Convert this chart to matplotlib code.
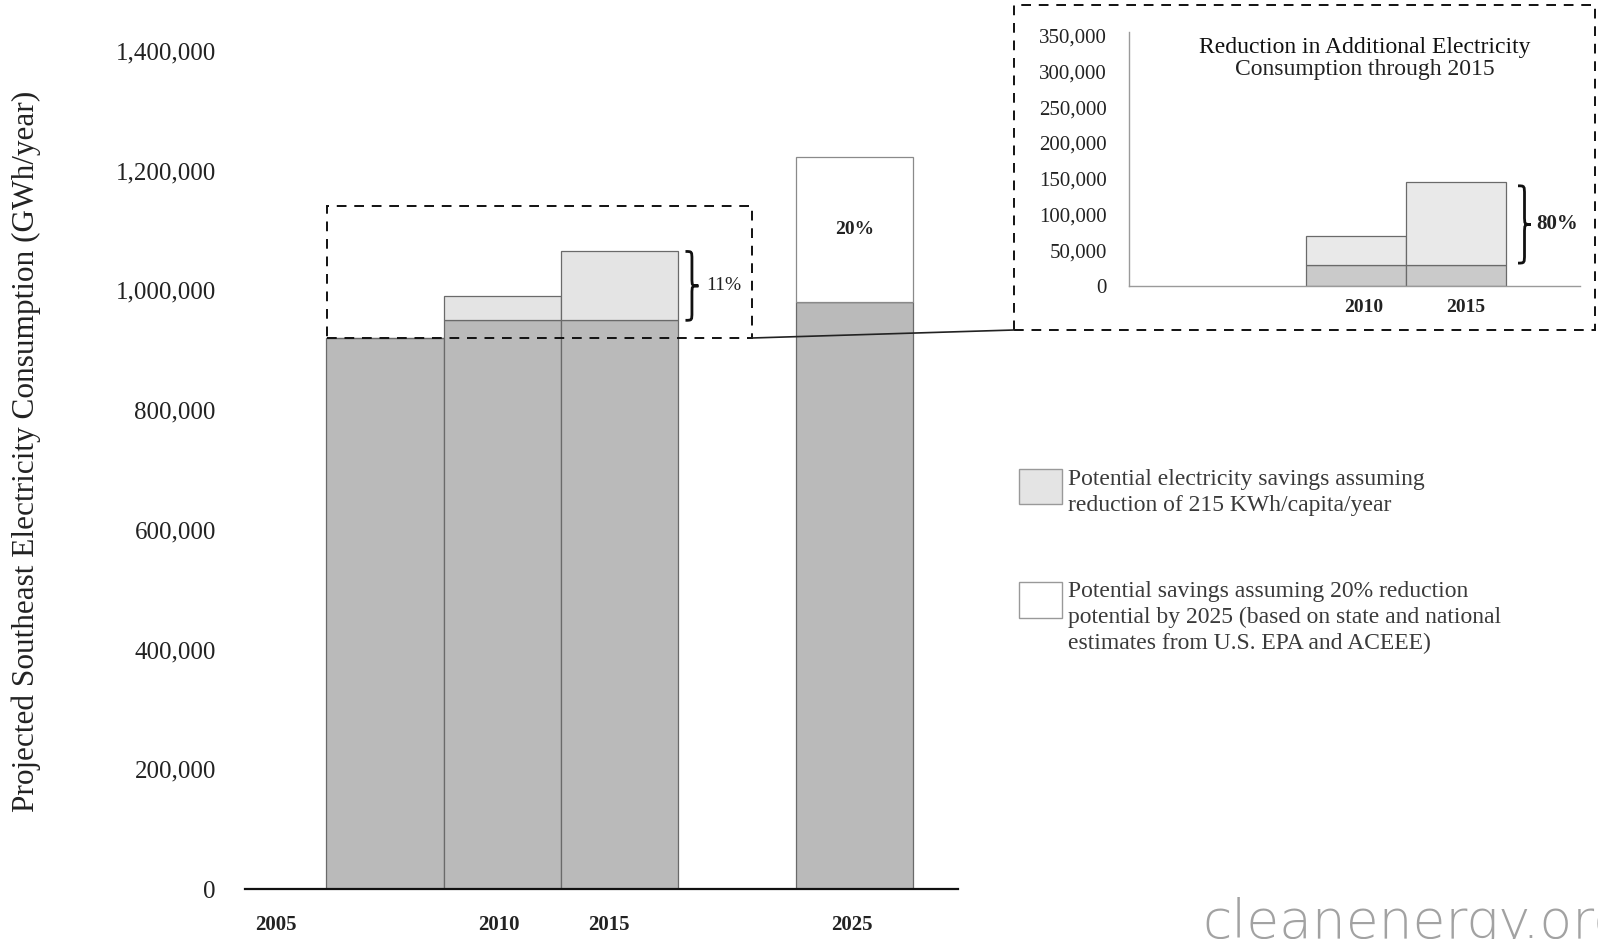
import matplotlib
matplotlib.use("Agg")
import matplotlib.pyplot as plt
from matplotlib.patches import Rectangle, PathPatch
from matplotlib.path import Path
from matplotlib.lines import Line2D
from matplotlib.ticker import FuncFormatter

plt.rcParams['font.family'] = ['Liberation Serif', 'DejaVu Serif']

# ---- data -------------------------------------------------------------
years = ["2005", "2010", "2015", "2025"]
baseline = [920000, 950000, 950000, 980000]          # projected consumption after savings
savings_per_capita = [0, 40000, 115000, 0]           # 215 kWh/capita/year reduction
savings_20pct = [0, 0, 0, 242000]                    # 20% reduction potential by 2025
main_ticks = [0, 200000, 400000, 600000, 800000, 1000000, 1200000, 1400000]

inset_years = ["2010", "2015"]
inset_ticks = [0, 50000, 100000, 150000, 200000, 250000, 300000, 350000]

pct_11 = "11%"
pct_20 = "20%"
pct_80 = "80%"

# ---- layout -----------------------------------------------------------
W, H = 1598, 939
fig = plt.figure(figsize=(W / 100, H / 100), dpi=100)


def fx(px):
    return px / W


def fy(py):
    return 1 - py / H


DARK = '#bababa'
LIGHT = '#e4e4e4'
EDGE = '#6a6a6a'
TXT = '#222222'

bar_x = [0, 1, 2, 4]
label_x = [-0.93, 0.97, 1.91, 3.98]

ax = fig.add_axes([fx(245), fy(889), fx(958) - fx(245), (868) / H])
ax.set_xlim(-1.19, 4.88)
ax.set_ylim(0, 1450000)

tops = [b + s for b, s in zip(baseline, savings_per_capita)]
ax.bar(bar_x, baseline, width=1.0, color=DARK, edgecolor=EDGE, linewidth=0.9, zorder=2)
ax.bar(bar_x, savings_per_capita, width=1.0, bottom=baseline, color=LIGHT,
       edgecolor=EDGE, linewidth=0.9, zorder=2)
ax.bar(bar_x[3], savings_20pct[3], width=1.0, bottom=baseline[3], color='white',
       edgecolor='#8a8a8a', linewidth=0.9, zorder=2)

for s in ['left', 'right', 'top']:
    ax.spines[s].set_visible(False)
ax.spines['bottom'].set_color('#111111')
ax.spines['bottom'].set_linewidth(1.6)
ax.set_yticks(main_ticks)
ax.yaxis.set_major_formatter(FuncFormatter(lambda v, p: f"{int(v):,}"))
ax.tick_params(axis='y', length=0, pad=21, labelsize=18, labelcolor=TXT)
ax.set_xticks(label_x)
ax.set_xticklabels(years, fontsize=15, fontweight='bold', color=TXT)
ax.tick_params(axis='x', length=0, pad=19)

# dashed box around the 2005-2015 growth
box_top = 1141000
ax.add_patch(Rectangle((-0.49, baseline[0]), 3.62, box_top - baseline[0], fill=False,
                       linestyle=(0, (5, 4)), edgecolor='#111111', linewidth=1.4,
                       zorder=3, clip_on=False))


def brace(axis, x0, w, y0, y1, lw=2.0):
    xm = x0 + w / 2
    ym = (y0 + y1) / 2
    h = y1 - y0
    r = 0.12 * h
    verts = [(x0, y1), (xm, y1), (xm, y1), (xm, y1 - r),
             (xm, ym + r),
             (xm, ym), (xm, ym), (x0 + w, ym),
             (xm, ym), (xm, ym), (xm, ym - r),
             (xm, y0 + r),
             (xm, y0), (xm, y0), (x0, y0)]
    codes = [Path.MOVETO, Path.CURVE4, Path.CURVE4, Path.CURVE4,
             Path.LINETO,
             Path.CURVE4, Path.CURVE4, Path.CURVE4,
             Path.CURVE4, Path.CURVE4, Path.CURVE4,
             Path.LINETO,
             Path.CURVE4, Path.CURVE4, Path.CURVE4]
    axis.add_patch(PathPatch(Path(verts, codes), fill=False, edgecolor='#111111',
                             linewidth=lw, zorder=4, clip_on=False))


brace(ax, 2.56, 0.11, baseline[2], tops[2])
ax.text(2.74, (baseline[2] + tops[2]) / 2, pct_11, fontsize=14, color=TXT,
        va='center', ha='left')
ax.text(bar_x[3], baseline[3] + savings_20pct[3] / 2, pct_20, fontsize=14,
        fontweight='bold', color=TXT, ha='center', va='center', zorder=5)

# ---- inset: additional consumption relative to 2005 -------------------
inset_base = [baseline[i] - baseline[0] for i in (1, 2)]
inset_top = [tops[i] - baseline[0] for i in (1, 2)]
inset_save = [t - b for t, b in zip(inset_top, inset_base)]

ia = fig.add_axes([fx(1129), fy(286), fx(1580) - fx(1129), (286 - 32) / H])
ia.set_xlim(-2.27, 2.24)
ia.set_ylim(0, 355000)
ix = [0, 1]
ia.bar(ix, inset_base, width=1.0, color='#cacaca', edgecolor=EDGE, linewidth=0.9, zorder=2)
ia.bar(ix, inset_save, width=1.0, bottom=inset_base, color='#e9e9e9',
       edgecolor=EDGE, linewidth=0.9, zorder=2)
for s in ['right', 'top']:
    ia.spines[s].set_visible(False)
ia.spines['left'].set_color('#9a9a9a')
ia.spines['bottom'].set_color('#9a9a9a')
ia.spines['left'].set_linewidth(1.0)
ia.spines['bottom'].set_linewidth(1.0)
ia.set_yticks(inset_ticks)
ia.yaxis.set_major_formatter(FuncFormatter(lambda v, p: f"{int(v):,}"))
ia.tick_params(axis='y', length=0, pad=16, labelsize=15, labelcolor=TXT)
ia.set_xticks([0.08, 1.1])
ia.set_xticklabels(inset_years, fontsize=14, fontweight='bold', color=TXT)
ia.tick_params(axis='x', length=0, pad=9)
ia.patch.set_alpha(0)

brace(ia, 1.62, 0.13, 32000, 140000)
ia.text(1.80, (32000 + 140000) / 2, pct_80, fontsize=15, fontweight='bold',
        color=TXT, va='center', ha='left', clip_on=False)

fig.text(fx(1365), fy(47), "Reduction in Additional Electricity", fontsize=17,
         color='#111111', ha='center', va='center')
fig.text(fx(1365), fy(70), "Consumption through 2015", fontsize=17,
         color=TXT, ha='center', va='center')

# dashed frame around inset and connector
fig.add_artist(Rectangle((fx(1014), fy(330)), fx(1595) - fx(1014), (330 - 5) / H,
                         transform=fig.transFigure, fill=False,
                         linestyle=(0, (5, 4)), edgecolor='#111111', linewidth=1.4))
fig.add_artist(Line2D([fx(752), fx(1014)], [fy(338), fy(330)], transform=fig.transFigure,
                      color='#222222', linewidth=1.2))

# ---- legend -----------------------------------------------------------
fig.add_artist(Rectangle((fx(1019), fy(504)), fx(43), 35 / H, transform=fig.transFigure,
                         facecolor=LIGHT, edgecolor='#999999', linewidth=1.0))
fig.add_artist(Rectangle((fx(1019), fy(618)), fx(43), 36 / H, transform=fig.transFigure,
                         facecolor='white', edgecolor='#999999', linewidth=1.0))
legend_lines_1 = ["Potential electricity savings assuming",
                  "reduction of 215 KWh/capita/year"]
legend_lines_2 = ["Potential savings assuming 20% reduction",
                  "potential by 2025 (based on state and national",
                  "estimates from U.S. EPA and ACEEE)"]
for i, line in enumerate(legend_lines_1):
    fig.text(fx(1068), fy(479 + 26 * i), line, fontsize=17, color='#3a3a3a',
             ha='left', va='center')
for i, line in enumerate(legend_lines_2):
    fig.text(fx(1068), fy(592 + 25.5 * i), line, fontsize=17, color='#3a3a3a',
             ha='left', va='center')

# ---- axis title and site name -------------------------------------------
fig.text(fx(26), fy(451), "Projected Southeast Electricity Consumption (GWh/year)",
         rotation=90, fontsize=22.5, color=TXT, ha='center', va='center')
fig.text(fx(1202), fy(938), "cleanenergy.org", fontsize=38.5, color='#a2a2a2',
         family=['DejaVu Sans'], fontweight='light', ha='left', va='baseline')

fig.savefig("out.png", dpi=100)
